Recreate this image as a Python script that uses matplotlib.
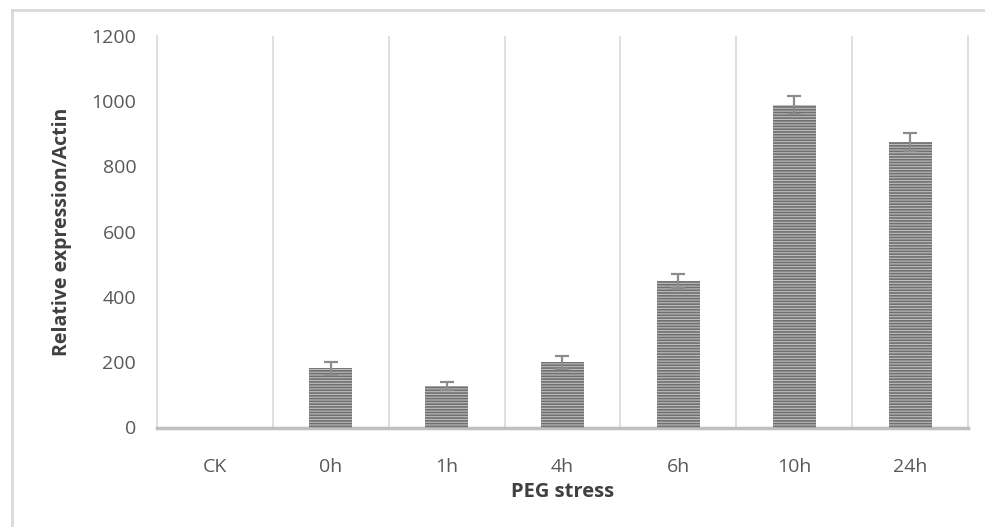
import matplotlib
matplotlib.use("Agg")
import matplotlib.pyplot as plt
from matplotlib.lines import Line2D
import numpy as np

categories = ["CK", "0h", "1h", "4h", "6h", "10h", "24h"]
values = [0, 182, 128, 200, 450, 988, 875]
errors = [0, 20, 12, 20, 22, 27, 28]
yticks = [0, 200, 400, 600, 800, 1000, 1200]

plt.rcParams['hatch.linewidth'] = 1.2
plt.rcParams['font.family'] = ['Open Sans', 'DejaVu Sans']

fig = plt.figure(figsize=(9.85, 5.27), dpi=100)
ax = fig.add_axes([157/985, 1 - 427.5/527, (968-157)/985, (427.5-36)/527])

x = np.arange(len(categories))
ax.bar(x, values, width=0.37, color='#bdbdbd', edgecolor='#707070',
       hatch='------', linewidth=0, zorder=3)
ax.errorbar(x[1:], values[1:], yerr=errors[1:], fmt='none', ecolor='#8c8c8c',
            elinewidth=1.6, capsize=5, capthick=1.6, zorder=4)

ax.set_xlim(-0.5, len(categories) - 0.5)
ax.set_ylim(0, 1200)
ax.set_yticks(yticks)
ax.set_yticklabels([str(t) for t in yticks])
ax.set_xticks(x)
ax.set_xticklabels(categories)

for b in np.arange(0.5, len(categories) - 0.5, 1.0):
    ax.axvline(b, color='#d9d9d9', linewidth=1.2, zorder=1)

for s in ['left', 'right']:
    ax.spines[s].set_color('#d9d9d9')
    ax.spines[s].set_linewidth(1.2)
ax.spines['top'].set_visible(False)
ax.spines['bottom'].set_color('#bfbfbf')
ax.spines['bottom'].set_linewidth(2.5)

ax.tick_params(axis='both', length=0, colors='#595959', labelsize=14)
ax.tick_params(axis='y', pad=15)
ax.tick_params(axis='x', pad=22)

ax.set_xlabel('PEG stress', fontsize=14.5, fontweight='bold', color='#404040', labelpad=4)
ax.set_ylabel('Relative expression/Actin', fontsize=14, fontweight='bold', color='#404040', labelpad=14)

# figure border (left and top)
fig.add_artist(Line2D([12/985, 12/985], [0, 1 - 10/527], transform=fig.transFigure,
                      color='#d9d9d9', linewidth=2))
fig.add_artist(Line2D([12/985, 1], [1 - 10/527, 1 - 10/527], transform=fig.transFigure,
                      color='#d9d9d9', linewidth=2))

fig.savefig('out.png', dpi=100)
